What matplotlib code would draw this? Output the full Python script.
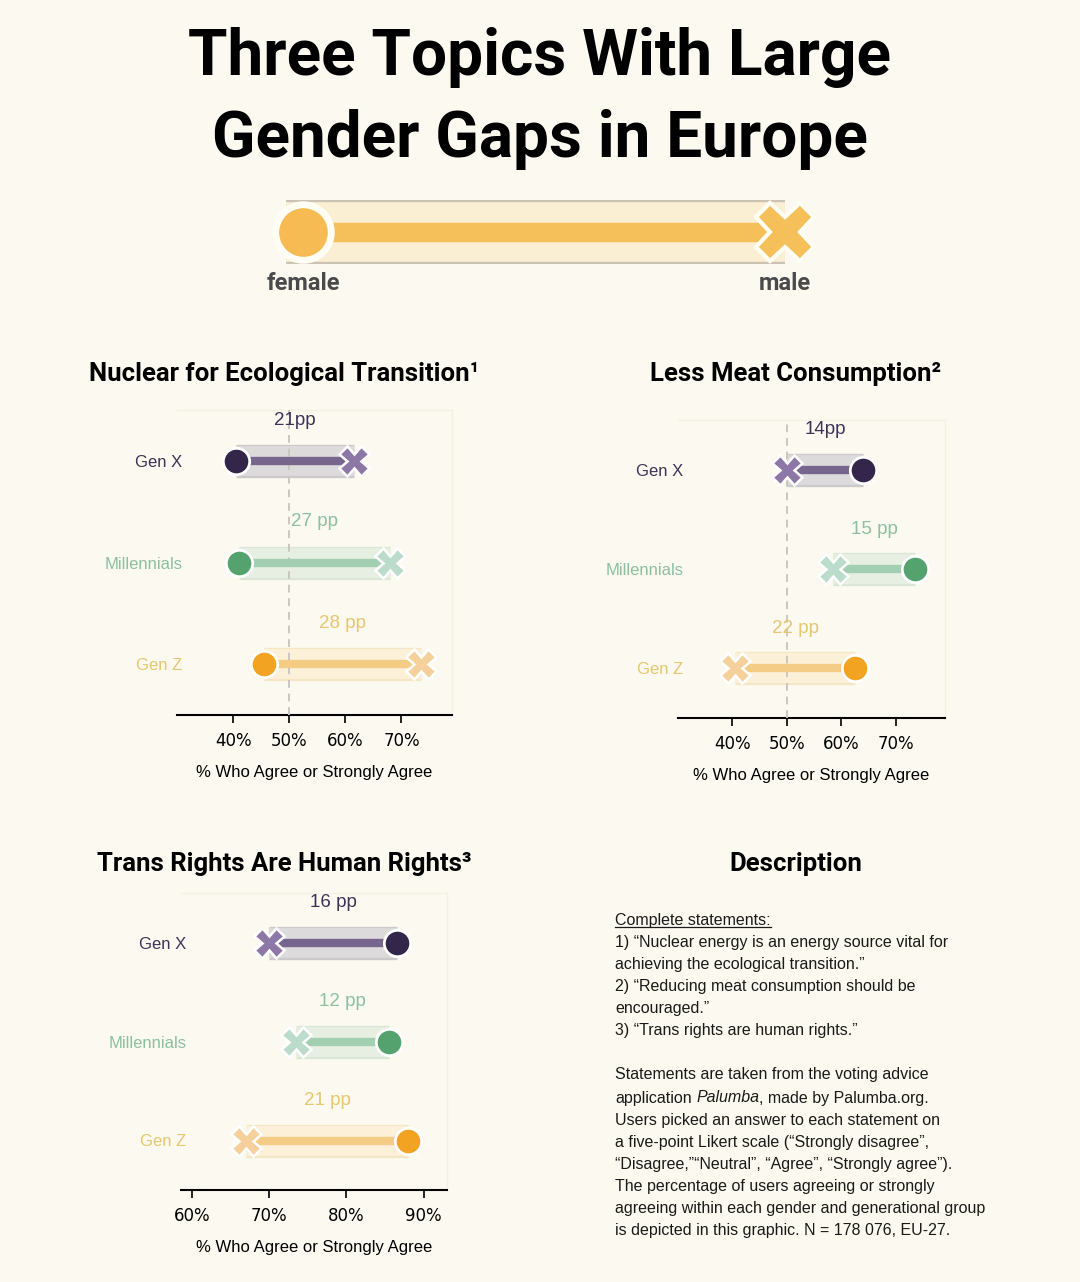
import matplotlib
matplotlib.use('Agg')
import matplotlib.pyplot as plt
from matplotlib.lines import Line2D

# Data (% who agree or strongly agree)
groups = ['Gen X', 'Millennials', 'Gen Z']

nuclear_female = [40.5, 41, 45.5]
nuclear_male = [61.5, 68, 73.5]
nuclear_gaps = ['21pp', '27 pp', '28 pp']

meat_female = [64, 73.5, 62.5]
meat_male = [50, 58.5, 40.5]
meat_gaps = ['14pp', '15 pp', '22 pp']

trans_female = [86.5, 85.5, 88]
trans_male = [70, 73.5, 67]
trans_gaps = ['16 pp', '12 pp', '21 pp']

# Colours per generation
female_col = ['#33264a', '#54a36e', '#f3a322']
male_col = ['#8d77a6', '#bcdccb', '#f6d09a']
line_col = ['#76668e', '#a2cfb1', '#f5cc85']
band_col = ['#dddadc', '#e6efe1', '#fcf0d9']
band_edge = ['#cdc8cc', '#dbe7d6', '#f5e6c6']
label_col = ['#3d3358', '#8cc0a0', '#e6c66e']

BG = '#fcfaf0'
W, H = 1080, 1282
SANS = 'Liberation Sans'
HEAD = 'Roboto'

fig = plt.figure(figsize=(W / 100, H / 100), dpi=100, facecolor=BG)


def box(x0, y0, x1, y1):
    # pixel box (top-left origin) -> figure fraction rect
    return [x0 / W, 1 - y1 / H, (x1 - x0) / W, (y1 - y0) / H]


def dumbbell(ax, female, male, gaps, ticks, xlim, show50=True):
    ax.set_facecolor(BG)
    ax.set_xlim(*xlim)
    ax.set_ylim(2.5, -0.5)
    for i in range(len(groups)):
        f, m = female[i], male[i]
        ax.plot([f, m], [i, i], color=band_edge[i], lw=24, solid_capstyle='butt', zorder=2)
        ax.plot([f, m], [i, i], color=band_col[i], lw=21.5, solid_capstyle='butt', zorder=2)
        ax.plot([f, m], [i, i], color=line_col[i], lw=6, solid_capstyle='butt', zorder=4)
        ax.plot(f, i, 'o', ms=19, color=female_col[i], mec='white', mew=2, zorder=5)
        ax.plot(m, i, 'X', ms=21, color=male_col[i], mec='white', mew=1.8, zorder=5)
        ax.text((f + m) / 2, i - 0.4, gaps[i], ha='center', va='center',
                fontsize=13.5, family=SANS, color=label_col[i], zorder=6)
    if show50:
        ax.axvline(50, color='#c9c7c0', lw=1.4, ls=(0, (4, 3)), zorder=3)
    ax.set_xticks(ticks)
    ax.set_xticklabels([f'{t}%' for t in ticks], fontsize=12, family='DejaVu Sans')
    ax.set_yticks(range(len(groups)))
    ax.set_yticklabels(groups, fontsize=12, family=SANS)
    for lab, c in zip(ax.get_yticklabels(), label_col):
        lab.set_color(c)
    ax.tick_params(axis='y', length=0, pad=-4)
    ax.tick_params(axis='x', length=6, width=1.2, pad=6.5)
    ax.set_xlabel('% Who Agree or Strongly Agree', fontsize=12, family=SANS, labelpad=10.5)
    ax.spines['left'].set_visible(False)
    for s in ['top', 'right']:
        ax.spines[s].set_color('#f3f0e4')
        ax.spines[s].set_linewidth(1)
    ax.spines['bottom'].set_linewidth(1.5)


ax1 = fig.add_axes(box(177, 410, 452, 715))
dumbbell(ax1, nuclear_female, nuclear_male, nuclear_gaps, [40, 50, 60, 70], (30, 79))

ax2 = fig.add_axes(box(678, 420, 945, 718))
dumbbell(ax2, meat_female, meat_male, meat_gaps, [40, 50, 60, 70], (30, 79))

ax3 = fig.add_axes(box(181, 893, 447, 1190))
dumbbell(ax3, trans_female, trans_male, trans_gaps, [60, 70, 80, 90], (58.6, 93), show50=False)

# Titles
fig.text(540 / W, 1 - 57 / H, 'Three Topics With Large', ha='center', va='center',
         fontsize=46, fontweight='bold', family=HEAD)
fig.text(540 / W, 1 - 140 / H, 'Gender Gaps in Europe', ha='center', va='center',
         fontsize=46, fontweight='bold', family=HEAD)

for x, y, t in [(284, 374, 'Nuclear for Ecological Transition¹'),
                (796, 374, 'Less Meat Consumption²'),
                (284, 864, 'Trans Rights Are Human Rights³'),
                (796, 864, 'Description')]:
    fig.text(x / W, 1 - y / H, t, ha='center', va='center', fontsize=18.5,
             fontweight='bold', family=HEAD)

# Legend (female / male key)
lax = fig.add_axes(box(250, 180, 830, 300))
lax.set_xlim(0, 1)
lax.set_ylim(0, 1)
lax.axis('off')
xf, xm, yl = 53 / 580, 535 / 580, 68 / 120
lax.plot([xf - 0.03, xm], [yl, yl], color='#c9c1b1', lw=46, solid_capstyle='butt', zorder=1)
lax.plot([xf - 0.03, xm], [yl, yl], color='#fbefd3', lw=43, solid_capstyle='butt', zorder=2)
lax.plot([xf, xm], [yl, yl], color='#f5bf5a', lw=14, solid_capstyle='butt', zorder=3)
lax.plot(xf, yl, 'o', ms=40, color='#f6bb52', mec='#fffdf4', mew=5, zorder=4)
lax.plot(xm, yl, 'X', ms=42, color='#f5bf5a', mec='#fffdf4', mew=3, zorder=4)
lax.text(xf, 17 / 120, 'female', ha='center', va='center', fontsize=17,
         fontweight='bold', family=HEAD, color='#4a4a4a')
lax.text(xm, 17 / 120, 'male', ha='center', va='center', fontsize=17,
         fontweight='bold', family=HEAD, color='#4a4a4a')

# Description text
desc_lines = [
    (921, 'Complete statements:'),
    (943, '1) “Nuclear energy is an energy source vital for'),
    (965, 'achieving the ecological transition.”'),
    (987, '2) “Reducing meat consumption should be'),
    (1009, 'encouraged.”'),
    (1031, '3) “Trans rights are human rights.”'),
    (1075, 'Statements are taken from the voting advice'),
    (1098, None),
    (1120, 'Users picked an answer to each statement on'),
    (1143, 'a five-point Likert scale (“Strongly disagree”,'),
    (1165, '“Disagree,”“Neutral”, “Agree”, “Strongly agree”).'),
    (1187, 'The percentage of users agreeing or strongly'),
    (1209, 'agreeing within each gender and generational group'),
    (1231, 'is depicted in this graphic. N = 178 076, EU-27.'),
]
DX = 615
DFS = 11.5
renderer = fig.canvas.get_renderer()
for y, t in desc_lines:
    if t is None:
        # line with italic "Palumba"
        parts = [('application ', 'normal'), ('Palumba', 'italic'),
                 (', made by Palumba.org.', 'normal')]
        x = DX
        for txt, style in parts:
            tt = fig.text(x / W, 1 - y / H, txt.strip(' '), ha='left', va='center',
                          fontsize=DFS, family=SANS, style=style, color='#1a1a1a')
            w = tt.get_window_extent(renderer).width
            x += w + (4.5 if txt.endswith(' ') else 0)
        continue
    tt = fig.text(DX / W, 1 - y / H, t, ha='left', va='center', fontsize=DFS,
                  family=SANS, color='#1a1a1a')
    if t.startswith('Complete'):
        bb = tt.get_window_extent(renderer)
        uy = (bb.y0 + 2) / H
        fig.add_artist(Line2D([bb.x0 / W, bb.x1 / W], [uy, uy], color='#1a1a1a',
                              lw=0.9, transform=fig.transFigure))

fig.savefig('out.png', dpi=100, facecolor=BG)
